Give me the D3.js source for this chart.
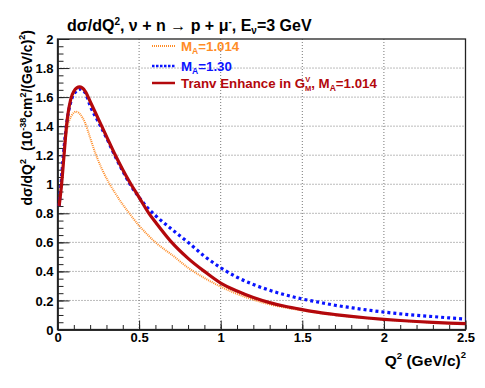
<!DOCTYPE html>
<html>
<head>
<meta charset="utf-8">
<script src="https://cdn.jsdelivr.net/npm/d3@7"></script>
<style>
  body { margin: 0; background: #fff; }
  svg { display: block; font-family: "Liberation Sans", Arial, Helvetica, sans-serif; }
  .lbl { font-weight: bold; font-size: 13px; fill: #000; }
</style>
</head>
<body>
<div id="chart"></div>
<script>
// Q^2 (GeV/c)^2 Stützstellen und Werte
const qOrange = [0.01, 0.025, 0.04, 0.063, 0.085, 0.115, 0.14, 0.17, 0.2, 0.23, 0.27, 0.31, 0.35, 0.4, 0.44, 0.5, 0.55, 0.6, 0.645, 0.7, 0.8, 0.9, 1.0, 1.1, 1.2, 1.3, 1.4, 1.5, 1.6, 1.7, 1.8, 1.9, 2.0, 2.1, 2.2, 2.3, 2.4, 2.5];
const vOrange = [0.85, 1.0, 1.2, 1.4, 1.47, 1.5, 1.48, 1.42, 1.32, 1.22, 1.11, 1.02, 0.945, 0.86, 0.8, 0.715, 0.655, 0.6, 0.56, 0.515, 0.425, 0.355, 0.295, 0.245, 0.205, 0.173, 0.15, 0.131, 0.114, 0.1, 0.088, 0.078, 0.069, 0.061, 0.054, 0.048, 0.043, 0.039];

const qBlue = [0.01, 0.025, 0.04, 0.06, 0.08, 0.1, 0.14, 0.17, 0.2, 0.25, 0.3, 0.35, 0.4, 0.45, 0.5, 0.55, 0.6, 0.7, 0.8, 0.9, 1.0, 1.1, 1.2, 1.3, 1.4, 1.5, 1.6, 1.7, 1.8, 1.9, 2.0, 2.1, 2.2, 2.3, 2.4, 2.5];
const vBlue = [0.85, 1.05, 1.25, 1.45, 1.56, 1.62, 1.655, 1.63, 1.54, 1.43, 1.32, 1.2, 1.09, 0.99, 0.91, 0.84, 0.785, 0.69, 0.6, 0.505, 0.425, 0.36, 0.31, 0.27, 0.237, 0.21, 0.188, 0.167, 0.15, 0.134, 0.12, 0.108, 0.098, 0.089, 0.08, 0.072];

const qRed = [0.01, 0.025, 0.04, 0.055, 0.08, 0.1, 0.135, 0.17, 0.2, 0.25, 0.3, 0.35, 0.4, 0.45, 0.5, 0.56, 0.6, 0.7, 0.8, 0.9, 1.0, 1.1, 1.2, 1.3, 1.4, 1.5, 1.6, 1.7, 1.8, 1.9, 2.0, 2.1, 2.2, 2.3, 2.4, 2.5];
const vRed = [0.85, 1.0, 1.2, 1.4, 1.58, 1.64, 1.67, 1.64, 1.57, 1.45, 1.33, 1.21, 1.1, 1.0, 0.91, 0.8, 0.74, 0.6, 0.49, 0.4, 0.32, 0.265, 0.22, 0.185, 0.158, 0.137, 0.118, 0.103, 0.09, 0.079, 0.07, 0.062, 0.055, 0.049, 0.044, 0.04];

const xTicks = [0, 0.5, 1, 1.5, 2, 2.5];
const yTicks = [0, 0.2, 0.4, 0.6, 0.8, 1, 1.2, 1.4, 1.6, 1.8, 2];

const width = 485, height = 388;
const margin = { top: 39, right: 19.5, bottom: 58.5, left: 57.5 };
const w = width - margin.left - margin.right,
      h = height - margin.top - margin.bottom;

const svg = d3.select("#chart").append("svg")
    .attr("width", width)
    .attr("height", height);

const g = svg.append("g")
    .attr("transform", `translate(${margin.left},${margin.top})`);

const x = d3.scaleLinear().domain([0, 2.5]).range([0, w]);
const y = d3.scaleLinear().domain([0, 2]).range([h, 0]);

// Gitterlinien (gepunktet)
g.append("g").selectAll("line")
    .data(xTicks.slice(1, -1))
    .enter().append("line")
    .attr("x1", d => x(d)).attr("x2", d => x(d))
    .attr("y1", 0).attr("y2", h)
    .attr("stroke", "#777").attr("stroke-width", 1).attr("stroke-dasharray", "1,2");

g.append("g").selectAll("line")
    .data(yTicks.slice(1, -1))
    .enter().append("line")
    .attr("x1", 0).attr("x2", w)
    .attr("y1", d => y(d)).attr("y2", d => y(d))
    .attr("stroke", "#777").attr("stroke-width", 1).attr("stroke-dasharray", "1,2");

// Achsen mit Teilstrichen nach innen
const xMajor = g.append("g").attr("transform", `translate(0,${h})`)
    .call(d3.axisBottom(x).tickValues(xTicks).tickSize(-9).tickSizeOuter(0).tickPadding(3).tickFormat(d3.format("")));
g.append("g").attr("transform", `translate(0,${h})`)
    .call(d3.axisBottom(x).tickValues(d3.range(0, 2.51, 0.1)).tickSize(-4.5).tickSizeOuter(0).tickFormat(""));

const yMajor = g.append("g")
    .call(d3.axisLeft(y).tickValues(yTicks).tickSize(-12).tickSizeOuter(0).tickPadding(4).tickFormat(d3.format("")));
g.append("g")
    .call(d3.axisLeft(y).tickValues(d3.range(0, 2.001, 0.05)).tickSize(-6).tickSizeOuter(0).tickFormat(""));

g.selectAll(".domain").attr("stroke", "#222").attr("stroke-width", 1.3);
g.selectAll(".tick line").attr("stroke", "#222").attr("stroke-width", 1);
xMajor.selectAll("text").attr("class", "lbl");
yMajor.selectAll("text").attr("class", "lbl").attr("dy", "0.35em");

// Rahmen oben und rechts
g.append("rect")
    .attr("x", 0).attr("y", 0).attr("width", w).attr("height", h)
    .attr("fill", "none").attr("stroke", "#222").attr("stroke-width", 1.3);

// Kurven
const line = d3.line()
    .x(d => x(d[0]))
    .y(d => y(d[1]))
    .curve(d3.curveMonotoneX);

const series = [
    { q: qOrange, v: vOrange, color: "#ff8c26", width: 2, dash: "1,1" },
    { q: qBlue, v: vBlue, color: "#0a14ff", width: 3.2, dash: "3,3" },
    { q: qRed, v: vRed, color: "#b3080c", width: 3.2, dash: null }
];

series.forEach(s => {
    g.append("path")
        .datum(d3.zip(s.q, s.v))
        .attr("d", line)
        .attr("fill", "none")
        .attr("stroke", s.color)
        .attr("stroke-width", s.width)
        .attr("stroke-dasharray", s.dash);
});

// Legende
const legend = [
    { color: "#ff8c26", width: 2, dash: "1,1", y: 46 },
    { color: "#0a14ff", width: 2.5, dash: "2.5,1.5", y: 66 },
    { color: "#b3080c", width: 2.5, dash: null, y: 83 }
];
legend.forEach(l => {
    svg.append("line")
        .attr("x1", 152).attr("x2", 175)
        .attr("y1", l.y).attr("y2", l.y)
        .attr("stroke", l.color).attr("stroke-width", l.width)
        .attr("stroke-dasharray", l.dash);
});

const fs = 13.3, fsub = 8.5;
const t1 = svg.append("text").attr("x", 181).attr("y", 51)
    .attr("fill", "#ff8c26").attr("font-weight", "bold").attr("font-size", fs);
t1.append("tspan").text("M");
t1.append("tspan").attr("font-size", fsub).attr("dy", 3).text("A");
t1.append("tspan").attr("dy", -3).text("=1.014");

const t2 = svg.append("text").attr("x", 181).attr("y", 71)
    .attr("fill", "#0a14ff").attr("font-weight", "bold").attr("font-size", fs);
t2.append("tspan").text("M");
t2.append("tspan").attr("font-size", fsub).attr("dy", 3).text("A");
t2.append("tspan").attr("dy", -3).text("=1.30");

const t3 = svg.append("text").attr("x", 181).attr("y", 88)
    .attr("fill", "#b3080c").attr("font-weight", "bold").attr("font-size", fs);
t3.append("tspan").text("Tranv Enhance in G");
t3.append("tspan").attr("font-size", 7.5).attr("dy", -6.5).text("V");
t3.append("tspan").attr("font-size", 7.5).attr("dx", -5.2).attr("dy", 9).text("M");
t3.append("tspan").attr("dy", -2.5).text(", M");
t3.append("tspan").attr("font-size", fsub).attr("dy", 3).text("A");
t3.append("tspan").attr("dy", -3).text("=1.014");

// Titel
const title = svg.append("text").attr("x", 67).attr("y", 31)
    .attr("font-weight", "bold").attr("font-size", 16).attr("fill", "#000");
title.append("tspan").text("d\u03c3/dQ");
title.append("tspan").attr("font-size", 10).attr("dy", -6).text("2");
title.append("tspan").attr("dy", 6).text(", \u03bd + n \u2192 p + \u03bc");
title.append("tspan").attr("font-size", 10).attr("dy", -6).text("-");
title.append("tspan").attr("dy", 6).text(", E");
title.append("tspan").attr("font-size", 10).attr("dy", 3).text("\u03bd");
title.append("tspan").attr("dy", -3).text("=3 GeV");

// x-Achsentitel
const xt = svg.append("text").attr("x", 466).attr("y", 366)
    .attr("text-anchor", "end")
    .attr("font-weight", "bold").attr("font-size", 15.5).attr("fill", "#000");
xt.append("tspan").text("Q");
xt.append("tspan").attr("font-size", 9.5).attr("dy", -7).text("2");
xt.append("tspan").attr("dy", 7).text(" (GeV/c)");
xt.append("tspan").attr("font-size", 9.5).attr("dy", -8).text("2");

// y-Achsentitel (gedreht)
const yt = svg.append("text")
    .attr("transform", "translate(32,30) rotate(-90)")
    .attr("text-anchor", "end")
    .attr("font-weight", "bold").attr("font-size", 14).attr("fill", "#000");
yt.append("tspan").text("d\u03c3/dQ");
yt.append("tspan").attr("font-size", 9).attr("dy", -6).text("2");
yt.append("tspan").attr("dy", 6).attr("dx", 4).text(" (10");
yt.append("tspan").attr("font-size", 9).attr("dy", -6).text("-38");
yt.append("tspan").attr("dy", 6).text("cm");
yt.append("tspan").attr("font-size", 9).attr("dy", -6).text("2");
yt.append("tspan").attr("dy", 6).text("/(GeV/c)");
yt.append("tspan").attr("font-size", 9).attr("dy", -7).text("2");
yt.append("tspan").attr("dy", 7).text(")");
</script>
</body>
</html>
